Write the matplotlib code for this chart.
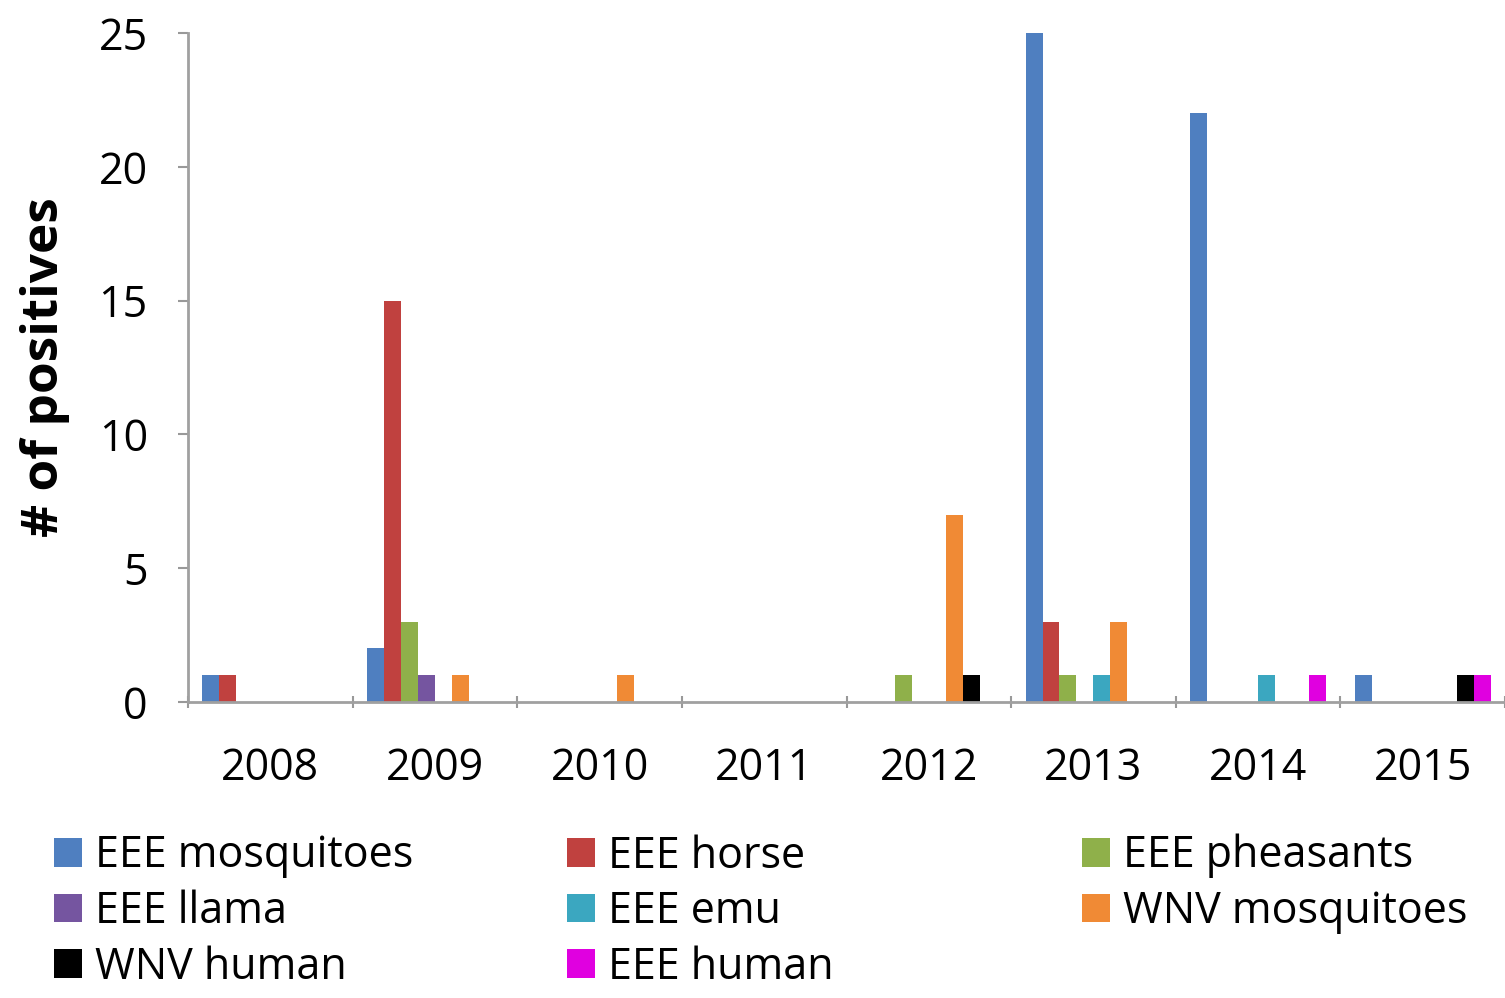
import matplotlib
matplotlib.use("Agg")
import matplotlib.pyplot as plt
from matplotlib.patches import Patch
import numpy as np

years = ["2008", "2009", "2010", "2011", "2012", "2013", "2014", "2015"]
series_names = ["EEE mosquitoes", "EEE horse", "EEE pheasants", "EEE llama",
                "EEE emu", "WNV mosquitoes", "WNV human", "EEE human"]
eee_mosquitoes = [1, 2, 0, 0, 0, 25, 22, 1]
eee_horse      = [1, 15, 0, 0, 0, 3, 0, 0]
eee_pheasants  = [0, 3, 0, 0, 1, 1, 0, 0]
eee_llama      = [0, 1, 0, 0, 0, 0, 0, 0]
eee_emu        = [0, 0, 0, 0, 0, 1, 1, 0]
wnv_mosquitoes = [0, 1, 1, 0, 7, 3, 0, 0]
wnv_human      = [0, 0, 0, 0, 1, 0, 0, 1]
eee_human      = [0, 0, 0, 0, 0, 0, 1, 1]
series = [eee_mosquitoes, eee_horse, eee_pheasants, eee_llama,
          eee_emu, wnv_mosquitoes, wnv_human, eee_human]
colors = ["#4F7FC0", "#C0413F", "#8FB04A", "#7555A0",
          "#3BA7C0", "#F08A35", "#000000", "#E000E0"]

plt.rcParams['font.family'] = ['Open Sans', 'DejaVu Sans']

fig = plt.figure(figsize=(15.05, 9.98), dpi=100)
ax = fig.add_axes([188/1505, 1-702/998, 1-188/1505, (702-33)/998])

x = np.arange(len(years))
w = 1/9.7
handles = []
for i, (name, vals, c) in enumerate(zip(series_names, series, colors)):
    ax.bar(x + (i-3.5)*w, vals, width=w, color=c, edgecolor='none')
    handles.append(Patch(facecolor=c, edgecolor='none', label=name))

ax.set_xlim(-0.5, 7.5)
ax.set_ylim(0, 25)
ax.set_yticks([0, 5, 10, 15, 20, 25])
ax.tick_params(axis='y', labelsize=31, length=7, width=1.5, color='#999999', pad=22)
ax.set_xticks(np.arange(-0.5, 8.0, 1.0))
ax.set_xticklabels([])
ax.set_xticks(x, minor=True)
ax.set_xticklabels(years, minor=True)
ax.tick_params(axis='x', which='major', length=9, width=1.5, color='#999999', direction='inout')
ax.tick_params(axis='x', which='minor', length=0, labelsize=31, pad=32)
for s in ['top', 'right']:
    ax.spines[s].set_visible(False)
for s in ['left', 'bottom']:
    ax.spines[s].set_color('#A0A0A0')
    ax.spines[s].set_linewidth(2)
ax.set_ylabel("# of positives", fontsize=37, fontweight='bold')
ax.yaxis.set_label_coords(-118/1317, 0.5)

cols = [[0, 3, 6], [1, 4, 7], [2, 5]]
xs = [54, 567, 1082]
for xc, idx in zip(xs, cols):
    fig.legend(handles=[handles[k] for k in idx], loc='upper left',
               bbox_to_anchor=(xc/1505, 1-834/998), frameon=False, fontsize=31,
               handlelength=0.65, handleheight=0.65, handletextpad=0.3,
               labelspacing=0.26, borderaxespad=0, borderpad=0)

fig.savefig("out.png", dpi=100)
